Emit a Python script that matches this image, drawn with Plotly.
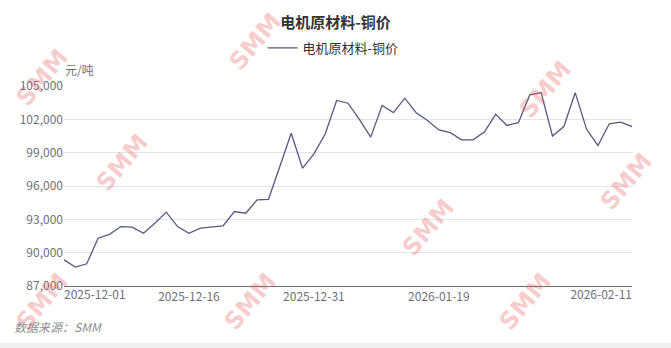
import plotly.graph_objects as go

# ---------------- data ----------------
dates = [
    "2025-12-01", "2025-12-02", "2025-12-03", "2025-12-04", "2025-12-05",
    "2025-12-08", "2025-12-09", "2025-12-10", "2025-12-11", "2025-12-12",
    "2025-12-15", "2025-12-16", "2025-12-17", "2025-12-18", "2025-12-19",
    "2025-12-22", "2025-12-23", "2025-12-24", "2025-12-25", "2025-12-26",
    "2025-12-29", "2025-12-30", "2025-12-31",
    "2026-01-05", "2026-01-06", "2026-01-07", "2026-01-08", "2026-01-09",
    "2026-01-12", "2026-01-13", "2026-01-14", "2026-01-15", "2026-01-16",
    "2026-01-19", "2026-01-20", "2026-01-21", "2026-01-22", "2026-01-23",
    "2026-01-26", "2026-01-27", "2026-01-28", "2026-01-29", "2026-01-30",
    "2026-02-02", "2026-02-03", "2026-02-04", "2026-02-05", "2026-02-06",
    "2026-02-09", "2026-02-10", "2026-02-11",
]
prices = [
    89350, 88700, 89000, 91300, 91650, 92350, 92300, 91750, 92650, 93650,
    92350, 91750, 92200, 92300, 92400, 93700, 93550, 94750, 94800, 97750,
    100750, 97600, 98900, 100700, 103700, 103450, 102000, 100400, 103250, 102600,
    103900, 102600, 101900, 101050, 100800, 100150, 100150, 100850, 102450, 101450,
    101700, 104200, 104400, 100500, 101350, 104400, 101100, 99650, 101600, 101750,
    101350,
]
title_text = "电机原材料-铜价"
series_name = "电机原材料-铜价"
unit_text = "元/吨"
source_text = "数据来源：SMM"
y_ticks = [87000, 90000, 93000, 96000, 99000, 102000, 105000]
x_label_dates = ["2025-12-01", "2025-12-16", "2025-12-31", "2026-01-19", "2026-02-11"]

# ---------------- figure ----------------
FONT = "Noto Sans CJK SC"
W, H = 671, 348
ML, MR, MT, MB = 64, 39, 86, 62
PW, PH = W - ML - MR, H - MT - MB

def px_x(x):
    return (x - ML) / PW

def px_y(y):
    return (H - MB - y) / PH

fig = go.Figure()
fig.add_trace(go.Scatter(
    x=dates, y=prices, mode="lines", name=series_name,
    line=dict(color="#555a80", width=1.3),
    hoverinfo="x+y",
))

n_last = len(dates) - 1
mid_labels = x_label_dates[1:-1]
first_idx = dates.index(x_label_dates[0])
last_idx = dates.index(x_label_dates[-1])

# invisible anchors so the edge-label axes are drawn
fig.add_trace(go.Scatter(
    x=[first_idx], y=[prices[first_idx]], xaxis="x2", mode="markers",
    marker=dict(opacity=0), showlegend=False, hoverinfo="skip",
))
fig.add_trace(go.Scatter(
    x=[last_idx], y=[prices[last_idx]], xaxis="x3", mode="markers",
    marker=dict(opacity=0), showlegend=False, hoverinfo="skip",
))

tick_font = dict(family=FONT, size=12, color="#6e7079")

fig.update_layout(
    width=W, height=H,
    margin=dict(l=ML, r=MR, t=MT, b=MB, pad=0),
    paper_bgcolor="white", plot_bgcolor="white",
    font=dict(family=FONT),
    title=dict(
        text=title_text, x=0.5, xanchor="center", xref="container",
        y=1 - 23 / H, yanchor="middle", yref="container",
        font=dict(family=FONT, size=15, color="#333333", weight="bold"),
    ),
    showlegend=True,
    legend=dict(
        orientation="h", x=px_x(333), xanchor="center",
        y=px_y(48), yanchor="middle",
        font=dict(family=FONT, size=13, color="#333333"),
        bgcolor="rgba(0,0,0,0)", itemwidth=30,
    ),
    xaxis=dict(
        type="category", range=[0, n_last],
        tickmode="array", tickvals=mid_labels, ticktext=mid_labels,
        showgrid=False, zeroline=False,
        showline=True, linecolor="#6e7079", linewidth=1,
        ticks="", tickfont=tick_font,
    ),
    xaxis2=dict(
        overlaying="x", anchor="y", side="bottom", type="linear",
        range=[0, n_last], tickmode="array",
        tickvals=[first_idx], ticktext=[x_label_dates[0]],
        ticklabelposition="outside right",
        showgrid=False, zeroline=False, showline=False, ticks="",
        tickfont=tick_font,
    ),
    xaxis3=dict(
        overlaying="x", anchor="y", side="bottom", type="linear",
        range=[0, n_last], tickmode="array",
        tickvals=[last_idx], ticktext=[x_label_dates[-1]],
        ticklabelposition="outside left",
        showgrid=False, zeroline=False, showline=False, ticks="",
        tickfont=tick_font,
    ),
    yaxis=dict(
        range=[y_ticks[0], y_ticks[-1]], tickmode="array", tickvals=y_ticks,
        tickformat=",d", showgrid=True, gridcolor="#e0e6f1", gridwidth=1,
        zeroline=False, showline=False, ticks="", tickfont=tick_font,
    ),
)

annotations = [
    dict(text=unit_text, xref="paper", yref="paper", x=px_x(63), y=px_y(69),
         xanchor="left", yanchor="middle", showarrow=False,
         font=dict(family=FONT, size=12, color="#6e7079")),
    dict(text="<i>" + source_text + "</i>", xref="paper", yref="paper",
         x=px_x(12), y=px_y(326), xanchor="left", yanchor="middle",
         showarrow=False, font=dict(family=FONT, size=12, color="#8c8c8c")),
]

# watermarks (kept fully inside the picture)
wm_centers = [(42, 78), (255, 42), (122, 163), (428, 228),
              (545, 90), (626, 182), (42, 302), (250, 302), (525, 302)]
for cx, cy in wm_centers:
    annotations.append(dict(
        text="<b>SMM</b>",
        xref="paper", yref="paper", x=px_x(cx), y=px_y(cy),
        xanchor="center", yanchor="middle", showarrow=False, textangle=-50,
        font=dict(family="DejaVu Sans", size=24, color="rgba(228,92,92,0.33)"),
    ))

fig.update_layout(annotations=annotations)

# bottom grey strip
fig.add_shape(type="rect", xref="paper", yref="paper",
              x0=px_x(0), x1=px_x(W), y0=px_y(343), y1=px_y(H + 2),
              fillcolor="#efefef", line=dict(width=0), layer="below")

fig.write_html("out.html")
